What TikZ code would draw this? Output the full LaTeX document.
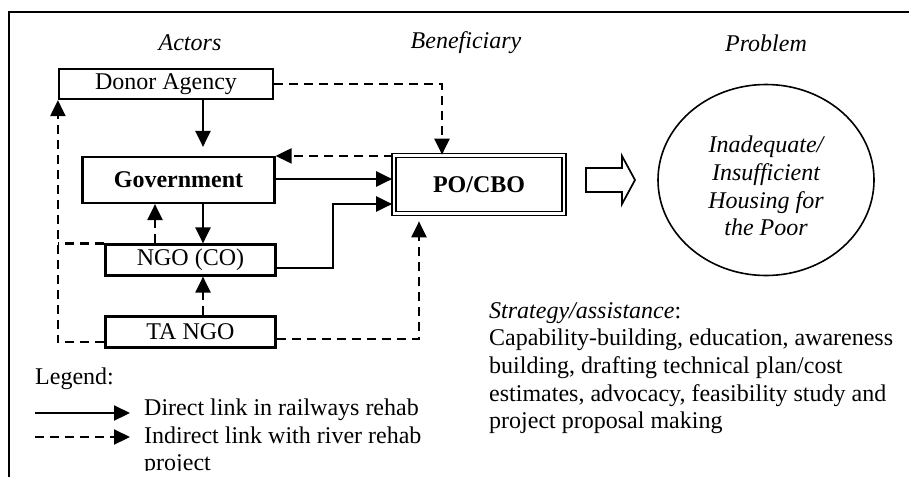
\documentclass[tikz,border=0pt]{standalone}
\usepackage{fontspec}
\setmainfont{Liberation Serif}
\usetikzlibrary{arrows.meta,shapes.geometric}
\tikzset{
  box/.style={draw, line width=2.2pt, rectangle, inner sep=0pt, align=center},
  tip/.style={-{Triangle[length=16pt,width=15pt]}},
  direct/.style={line width=2.2pt, tip},
  indirect/.style={line width=2.2pt, dash pattern=on 9pt off 6pt, tip},
  indirectline/.style={line width=2.2pt, dash pattern=on 9pt off 6pt},
  heading/.style={font=\fontsize{24}{27.7}\selectfont\itshape},
  plain/.style={inner sep=0pt, align=left}
}
\begin{document}
\begin{tikzpicture}[x=1pt, y=-1pt, font=\fontsize{24}{27.7}\selectfont]
\useasboundingbox (0,0) rectangle (909,477);
% frame
\draw[line width=1.8pt] (9,477) -- (9,12) -- (909,12);
% headings
\node[heading] (hact) at (190,43) {Actors};
\node[heading] (hben) at (466,43) {Beneficiary};
\node[heading] (hprob) at (766,43) {Problem};
% boxes
\node[box, minimum width=214pt, minimum height=30pt] (donor) at (166,84) {Donor Agency};
\node[box, minimum width=192pt, minimum height=46pt, font=\fontsize{24}{27.7}\selectfont\bfseries] (gov) at (178.5,180) {Government};
\node[box, minimum width=170pt, minimum height=31pt] (ngo) at (190.5,260) {NGO (CO)};
\node[box, minimum width=170pt, minimum height=31pt] (ta) at (190.5,332) {TA NGO};
\node[draw, line width=1.7pt, double, double distance=2.5pt, inner sep=0pt, minimum width=170pt, minimum height=58pt, font=\fontsize{24}{27.7}\selectfont\bfseries] (po) at (479,184.5) {PO/CBO};
\node[draw, ellipse, line width=1.6pt, inner sep=0pt, minimum width=216pt, minimum height=191pt] (prob) at (766,180) {};
\node[align=center, inner sep=0pt, font=\fontsize{24}{27.7}\selectfont\itshape] (probtext) at (766,186) {Inadequate/\\Insufficient\\Housing for\\the Poor};
% block arrow
\draw[line width=1.7pt, line join=miter] (586,168) -- (622,168) -- (622,156) -- (635,180) -- (622,204) -- (622,192) -- (586,192) -- cycle;
% helper coordinates
\coordinate (colA) at (203,0);
\coordinate (colB) at (155,0);
\coordinate (colP) at (442,0);
\coordinate (colQ) at (419,0);
\coordinate (colN) at (333,0);
\coordinate (rowG) at (0,179);
\coordinate (rowN) at (0,268);
\coordinate (rowR) at (0,204);
\coordinate (rowT) at (0,339);
\coordinate (rowL) at (0,342);
% direct links
\draw[direct, shorten >=9pt] (donor.south -| colA) -- (gov.north -| colA);
\draw[direct, shorten >=1pt] (gov.east |- rowG) -- (po.west |- rowG);
\draw[direct] (gov.south -| colA) -- (ngo.north -| colA);
\draw[direct, shorten >=1pt] (ngo.east |- rowN) -| (colN |- rowR) -- (po.west |- rowR);
% indirect links
\draw[indirect] (donor.east) -| (po.north -| colP);
\draw[indirect] (po.north west |- gov.north east) -- (gov.north east);
\draw[indirect] (ngo.north -| colB) -- (gov.south -| colB);
\draw[indirect] (ta.north -| colA) -- (ngo.south -| colA);
\draw[indirect, shorten >=7pt] (ta.east |- rowT) -| (po.south -| colQ);
\draw[indirect] (ta.west |- rowL) -| (donor.south west);
\draw[indirectline] (ngo.north west) -- (ngo.north west -| donor.south west);
% strategy text
\node[plain, anchor=north west] (strat) at (489,302) {\textit{Strategy/assistance}:\\Capability-building, education, awareness\\building, drafting technical plan/cost\\estimates, advocacy, feasibility study and\\project proposal making};
% legend
\node[plain, anchor=west] (leg) at (35,379) {Legend:};
\coordinate (l1a) at (35,413);
\coordinate (l1b) at (130,413);
\coordinate (l2a) at (35,437);
\coordinate (l2b) at (130,437);
\draw[direct] (l1a) -- (l1b);
\draw[indirect] (l2a) -- (l2b);
\begin{scope}
\clip (0,0) rectangle (909,470.5);
\node[plain, anchor=north west] (legtext) at (144,398.5) {Direct link in railways rehab\\Indirect link with river rehab\\project};
\end{scope}
\end{tikzpicture}
\end{document}
